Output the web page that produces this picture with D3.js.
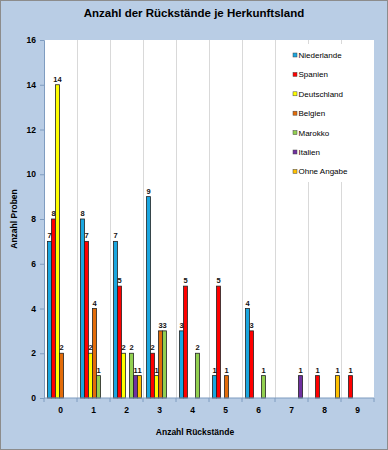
<!DOCTYPE html>
<html>
<head>
<meta charset="utf-8">
<script src="https://cdn.jsdelivr.net/npm/d3@7"></script>
<style>
  body { margin: 0; background: #fff; }
  svg { display: block; font-family: "Liberation Sans", Arial, sans-serif; }
</style>
</head>
<body>
<div id="chart"></div>
<script>
const categories = ["0", "1", "2", "3", "4", "5", "6", "7", "8", "9"];
const seriesNames = ["Niederlande", "Spanien", "Deutschland", "Belgien", "Marokko", "Italien", "Ohne Angabe"];
const seriesColors = ["#1AA7E0", "#FF0000", "#FFFF00", "#E36C09", "#92D050", "#7030A0", "#FFC000"];
// 0 = no bar
const niederlande = [7, 8, 7, 9, 3, 1, 4, 0, 0, 0];
const spanien     = [8, 7, 5, 2, 5, 5, 3, 0, 1, 1];
const deutschland = [14, 2, 2, 1, 0, 0, 0, 0, 0, 0];
const belgien     = [2, 4, 0, 3, 0, 1, 0, 0, 0, 0];
const marokko     = [0, 1, 2, 3, 2, 0, 1, 0, 0, 0];
const italien     = [0, 0, 1, 0, 0, 0, 0, 1, 0, 0];
const ohneAngabe  = [0, 0, 1, 0, 0, 0, 0, 0, 1, 0];
const yTicks = [0, 2, 4, 6, 8, 10, 12, 14, 16];

const seriesValues = [niederlande, spanien, deutschland, belgien, marokko, italien, ohneAngabe];

const W = 388, H = 450;
const plot = {left: 44, right: 374, top: 40, bottom: 398};

const svg = d3.select("#chart").append("svg")
    .attr("width", W).attr("height", H);

svg.append("rect").attr("x", 0.5).attr("y", 0.5)
    .attr("width", W - 1).attr("height", H - 1)
    .attr("fill", "#B9CDE5").attr("stroke", "#8c8c8c");

svg.append("rect")
    .attr("x", plot.left).attr("y", plot.top)
    .attr("width", plot.right - plot.left).attr("height", plot.bottom - plot.top)
    .attr("fill", "#fff");

const x = d3.scaleBand().domain(categories).range([plot.left, plot.right]);
const xs = d3.scaleBand().domain(seriesNames).range([3.5, x.bandwidth() - 1.5]);
const y = d3.scaleLinear().domain([0, 16]).range([plot.bottom, plot.top]);

// vertical gridlines at category boundaries
svg.append("g").selectAll("line")
    .data(categories.slice(1))
    .join("line")
    .attr("x1", d => x(d) + 0.5).attr("x2", d => x(d) + 0.5)
    .attr("y1", plot.top).attr("y2", plot.bottom)
    .attr("stroke", "#d9d9d9");

// bars
const bars = [];
seriesValues.forEach((vals, si) => {
    vals.forEach((v, ci) => {
        if (v > 0) bars.push({series: seriesNames[si], color: seriesColors[si], cat: categories[ci], value: v});
    });
});

svg.append("g").selectAll("rect")
    .data(bars)
    .join("rect")
    .attr("x", d => x(d.cat) + xs(d.series))
    .attr("y", d => y(d.value))
    .attr("width", xs.bandwidth())
    .attr("height", d => y(0) - y(d.value))
    .attr("fill", d => d.color)
    .attr("stroke", "#222")
    .attr("stroke-width", 0.8);

svg.append("g").selectAll("text")
    .data(bars)
    .join("text")
    .attr("x", d => x(d.cat) + xs(d.series) + xs.bandwidth() / 2)
    .attr("y", d => y(d.value) - 3)
    .attr("text-anchor", "middle")
    .attr("font-size", 7.5)
    .attr("font-weight", "bold")
    .attr("fill", "#111")
    .text(d => d.value);

// axes
const xAxis = svg.append("g")
    .attr("transform", `translate(0,${plot.bottom})`);
xAxis.append("line").attr("x1", plot.left).attr("x2", plot.right)
    .attr("stroke", "#7f9cc0");
xAxis.selectAll("line.tk")
    .data(categories.concat(["end"]))
    .join("line").attr("class", "tk")
    .attr("x1", (d, i) => plot.left + i * x.step()).attr("x2", (d, i) => plot.left + i * x.step())
    .attr("y1", 0).attr("y2", 4)
    .attr("stroke", "#7f9cc0");
xAxis.selectAll("text")
    .data(categories)
    .join("text")
    .attr("x", d => x(d) + x.bandwidth() / 2)
    .attr("y", 15)
    .attr("text-anchor", "middle")
    .attr("font-size", 8.5).attr("font-weight", "bold")
    .text(d => d);

const yAxis = svg.append("g")
    .attr("transform", `translate(${plot.left},0)`)
    .call(d3.axisLeft(y).tickValues(yTicks).tickSize(4).tickPadding(4));
yAxis.select(".domain").attr("stroke", "#7f9cc0");
yAxis.selectAll(".tick line").attr("stroke", "#7f9cc0");
yAxis.selectAll(".tick text")
    .attr("font-size", 8.5).attr("font-weight", "bold")
    .attr("font-family", "Liberation Sans, Arial, sans-serif")
    .attr("fill", "#000");

// titles
svg.append("text")
    .attr("x", W / 2).attr("y", 17)
    .attr("text-anchor", "middle")
    .attr("font-size", 11.5).attr("font-weight", "bold")
    .text("Anzahl der Rückstände je Herkunftsland");

svg.append("text")
    .attr("x", (plot.left + plot.right) / 2 - 14).attr("y", 435)
    .attr("text-anchor", "middle")
    .attr("font-size", 8.5).attr("font-weight", "bold")
    .text("Anzahl Rückstände");

svg.append("text")
    .attr("transform", `translate(17,${(plot.top + plot.bottom) / 2}) rotate(-90)`)
    .attr("text-anchor", "middle")
    .attr("font-size", 8.5).attr("font-weight", "bold")
    .text("Anzahl Proben");

// legend
const legend = svg.append("g");
legend.append("rect")
    .attr("x", 290).attr("y", 44).attr("width", 82).attr("height", 138)
    .attr("fill", "#fff");
const item = legend.selectAll("g")
    .data(seriesNames)
    .join("g")
    .attr("transform", (d, i) => `translate(293,${56 + i * 19.4})`);
item.append("rect")
    .attr("x", 0).attr("y", -3).attr("width", 4).attr("height", 4)
    .attr("fill", (d, i) => seriesColors[i])
    .attr("stroke", "#444").attr("stroke-width", 0.5);
item.append("text")
    .attr("x", 5.5).attr("y", 2)
    .attr("font-size", 8)
    .attr("fill", "#000")
    .text(d => d);
</script>
</body>
</html>
